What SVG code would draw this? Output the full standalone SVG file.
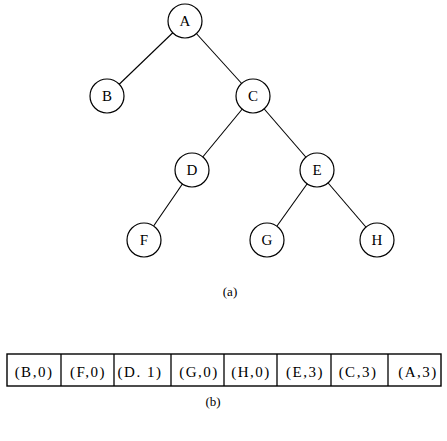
<svg xmlns="http://www.w3.org/2000/svg" width="447" height="441" viewBox="0 0 447 441">
<style>
.n circle{fill:#fff;stroke:#000;stroke-width:1.2}
.n text{font-family:"Liberation Serif","Times New Roman",serif;font-size:15px;text-anchor:middle;fill:#000}
.e line{stroke:#000;stroke-width:1.1}
.cap{font-family:"Liberation Serif","Times New Roman",serif;font-size:13px;text-anchor:middle;fill:#000}
.cell rect{fill:none;stroke:#000;stroke-width:1.4}
.cell line{stroke:#000;stroke-width:1.3}
.cell text{font-family:"Liberation Serif","Times New Roman",serif;font-size:15px;fill:#000;text-anchor:middle;letter-spacing:1.5px}
</style>
<rect width="447" height="441" fill="#fff"/>
<g id="edges" class="e">
<line x1="185" y1="21" x2="107" y2="96"/>
<line x1="185" y1="21" x2="253" y2="96"/>
<line x1="253" y1="96" x2="192" y2="170"/>
<line x1="253" y1="96" x2="317" y2="170"/>
<line x1="192" y1="170" x2="144" y2="240"/>
<line x1="317" y1="170" x2="267" y2="240"/>
<line x1="317" y1="170" x2="377" y2="240"/>
</g>
<g id="A" class="n"><circle cx="185" cy="21" r="17"/><text x="185" y="26">A</text></g>
<g id="B" class="n"><circle cx="107" cy="96" r="17"/><text x="107" y="101">B</text></g>
<g id="C" class="n"><circle cx="253" cy="96" r="17"/><text x="253" y="101">C</text></g>
<g id="D" class="n"><circle cx="192" cy="170" r="17"/><text x="192" y="175">D</text></g>
<g id="E" class="n"><circle cx="317" cy="170" r="17"/><text x="317" y="175">E</text></g>
<g id="F" class="n"><circle cx="144" cy="240" r="17"/><text x="144" y="245">F</text></g>
<g id="G" class="n"><circle cx="267" cy="240" r="17"/><text x="267" y="245">G</text></g>
<g id="H" class="n"><circle cx="377" cy="240" r="17"/><text x="377" y="245">H</text></g>
<text class="cap" x="230" y="296">(a)</text>
<g id="table" class="cell">
<rect x="7" y="354" width="434" height="32"/>
<line x1="61" y1="354" x2="61" y2="386"/>
<line x1="114" y1="354" x2="114" y2="386"/>
<line x1="171" y1="354" x2="171" y2="386"/>
<line x1="224" y1="354" x2="224" y2="386"/>
<line x1="277" y1="354" x2="277" y2="386"/>
<line x1="331" y1="354" x2="331" y2="386"/>
<line x1="388" y1="354" x2="388" y2="386"/>
<text x="34" y="377">(B,0)</text>
<text x="88" y="377">(F,0)</text>
<text x="140" y="377">(D. 1)</text>
<text x="199" y="377">(G,0)</text>
<text x="251" y="377">(H,0)</text>
<text x="305" y="377">(E,3)</text>
<text x="358" y="377">(C,3)</text>
<text x="418" y="377">(A,3)</text>
</g>
<text class="cap" x="213" y="406">(b)</text>
</svg>
